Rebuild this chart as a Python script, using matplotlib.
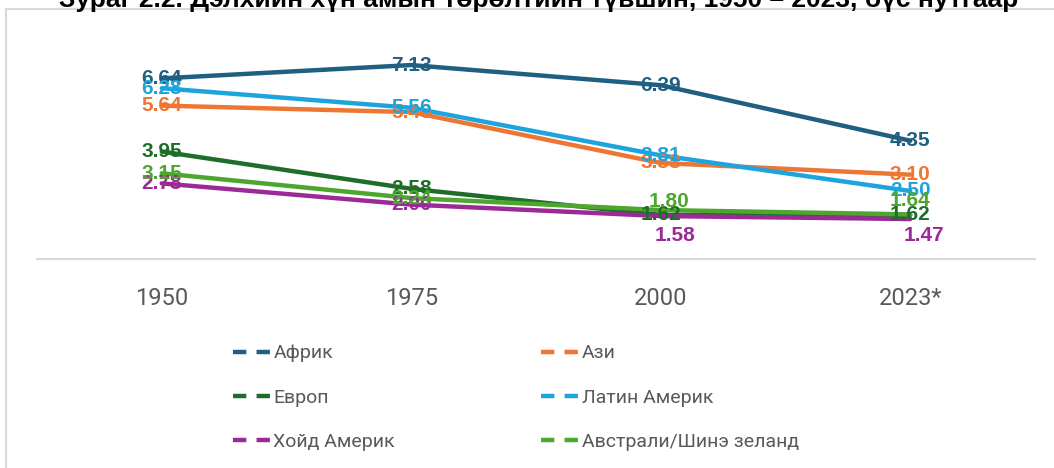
#! /usr/bin/env python3
# Total fertility rate by region, 1950 - 2023 (line chart with labels)

import matplotlib
matplotlib.use("Agg")
import matplotlib.pyplot as plt
from matplotlib.patches import Rectangle
from matplotlib.lines import Line2D

# data
years = ["1950", "1975", "2000", "2023*"]
regions = ["Африк", "Ази", "Европ", "Латин Америк", "Хойд Америк", "Австрали/Шинэ зеланд"]
africa = [6.64, 7.13, 6.39, 4.35]
asia = [5.64, 5.40, 3.53, 3.10]
europe = [3.95, 2.58, 1.62, 1.62]
latin = [6.28, 5.56, 3.81, 2.50]
north_am = [2.78, 2.00, 1.58, 1.47]
aus_nz = [3.15, 2.24, 1.80, 1.64]
title = "Зураг 2.2. Дэлхийн хүн амын төрөлтийн түвшин, 1950 – 2023, бүс нутгаар"

# styling
colors = ["#1f5f82", "#ee7633", "#1e6e2a", "#1ea4dd", "#9c2a96", "#4da72e"]
# label offsets in points (only a few labels are moved off the point)
offsets = {
    (4, 2): (10, -14), (4, 3): (10, -12),
    (5, 2): (6, 6), (5, 3): (0, 10),
}
series = [africa, asia, europe, latin, north_am, aus_nz]
grey = "#595959"
sans = ["Roboto", "DejaVu Sans"]
bold = ["Liberation Sans", "DejaVu Sans"]

fig = plt.figure(figsize=(10.54, 4.68), dpi=100)
fig.patches.append(Rectangle((6 / 1054, -0.1), 1.2, 1 - 9 / 468 + 0.1,
                             transform=fig.transFigure, fill=False,
                             edgecolor="#d9d9d9", linewidth=1.5))
fig.text(0.511, 1 - 7 / 468, title, ha="center", va="baseline",
         fontsize=19, fontweight="bold", family=bold)

ax = fig.add_axes([37 / 1054, 1 - 259 / 468, 998 / 1054, 217.6 / 468])
x = range(len(years))
for i, vals in enumerate(series):
    ax.plot(x, vals, color=colors[i], linewidth=3.2, solid_capstyle="round", zorder=2)
    for j, v in enumerate(vals):
        dx, dy = offsets.get((i, j), (0, 0))
        ax.annotate("%.2f" % v, (j, v), xytext=(dx, dy), textcoords="offset points",
                    ha="center", va="center", fontsize=15, fontweight="bold",
                    color=colors[i], family=bold, zorder=3)

ax.set_xlim(-0.5, 3.5)
ax.set_ylim(0, 8)
ax.set_xticks(list(x))
ax.set_xticklabels(years, fontsize=17, color=grey, family=sans)
ax.tick_params(axis="x", length=0, pad=20)
ax.set_yticks([])
for s in ["top", "right", "left"]:
    ax.spines[s].set_visible(False)
ax.spines["bottom"].set_color("#d9d9d9")
ax.spines["bottom"].set_linewidth(1.5)

# legend: two columns, filled row by row (matplotlib fills by column)
order = [0, 2, 4, 1, 3, 5]
handles = [Line2D([], [], color=colors[k], linewidth=3.2, dashes=(3.0, 2.3)) for k in order]
labels = [regions[k] for k in order]
leg = fig.legend(handles, labels, ncol=2, loc="upper left",
                 bbox_to_anchor=(215 / 1054, 1 - 327 / 468), frameon=False,
                 handlelength=2.0, handletextpad=0.1, columnspacing=7.5,
                 labelspacing=1.35, prop={"family": sans, "size": 14})
for t in leg.get_texts():
    t.set_color(grey)

plt.savefig("out.png", dpi=100)
